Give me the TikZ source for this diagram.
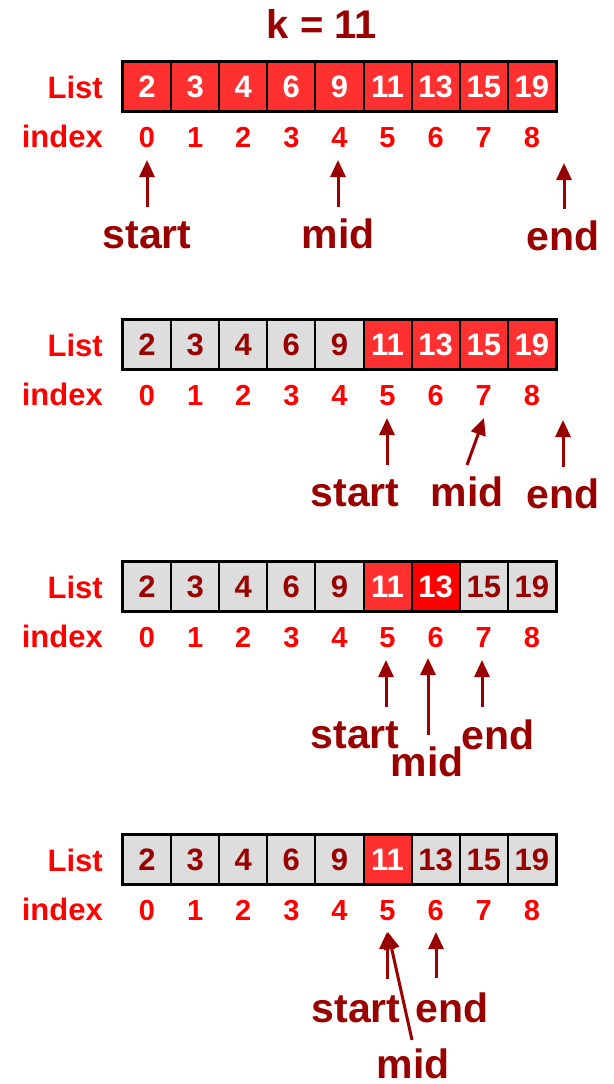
\documentclass[tikz,border=0pt]{standalone}
\usepackage{fontspec}
\setmainfont{Liberation Sans}
\usetikzlibrary{arrows.meta}
\definecolor{dred}{HTML}{990000}
\definecolor{cred}{HTML}{FF3030}
\definecolor{bred}{HTML}{FF0000}
\definecolor{lred}{HTML}{FF0000}
\definecolor{cgray}{HTML}{DDDDDD}
\begin{document}
\begin{tikzpicture}[x=1pt,y=-1pt,
 cellbox/.style={draw=black,line width=2pt,minimum width=48.1pt,minimum height=48.5pt,inner sep=0pt,font=\fontsize{31}{31}\selectfont\bfseries,text height=22pt,text depth=0pt},
 hot/.style={cellbox,fill=cred,text=white},
 hotter/.style={cellbox,fill=bred,text=white},
 cold/.style={cellbox,fill=cgray,text=dred},
 rowlabel/.style={font=\fontsize{31}{31}\selectfont\bfseries,text=lred,anchor=base east,inner sep=0pt},
 idx/.style={font=\fontsize{29}{29}\selectfont\bfseries,text=lred,anchor=base,inner sep=0pt},
 ptr/.style={font=\fontsize{41}{41}\selectfont\bfseries,text=dred,anchor=base,inner sep=0pt},
 ptrarrow/.style={draw=dred,line width=3pt,-{Triangle[width=15pt,length=17pt]}},
 frame/.style={draw=black,line width=2.5pt}
]
\useasboundingbox (0,0) rectangle (613,1084);
\node[font=\fontsize{40}{40}\selectfont\bfseries,text=dred,anchor=base,inner sep=0pt] (title) at (322,38) {k = 11};

% ---------- row 1
\node[rowlabel] (list1) at (103,98) {List};
\node[rowlabel] (index1) at (103,147) {index};
\foreach \v/\s [count=\i from 0] in {2/hot,3/hot,4/hot,6/hot,9/hot,11/hot,13/hot,15/hot,19/hot}
  {\node[\s] (a\i) at ({147.05+48.1*\i},86.5) {\v};}
\draw[frame] (a0.north west) rectangle (a8.south east);
\foreach \i in {0,...,8} {\node[idx] (ai\i) at ({147.05+48.1*\i},147) {\i};}
\node[ptr] (start1) at (147,248) {start};
\node[ptr] (mid1) at (338,248) {mid};
\node[ptr] (end1) at (563,250) {end};
\coordinate (s1t) at (147,207); \coordinate (s1h) at (147,160);
\coordinate (m1t) at (338,207); \coordinate (m1h) at (338,160);
\coordinate (e1t) at (564,209); \coordinate (e1h) at (564,163);
\draw[ptrarrow] (s1t) -- (s1h);
\draw[ptrarrow] (m1t) -- (m1h);
\draw[ptrarrow] (e1t) -- (e1h);

% ---------- row 2
\node[rowlabel] (list2) at (103,356) {List};
\node[rowlabel] (index2) at (103,405) {index};
\foreach \v/\s [count=\i from 0] in {2/cold,3/cold,4/cold,6/cold,9/cold,11/hot,13/hot,15/hot,19/hot}
  {\node[\s] (b\i) at ({147.05+48.1*\i},344.5) {\v};}
\draw[frame] (b0.north west) rectangle (b8.south east);
\foreach \i in {0,...,8} {\node[idx] (bi\i) at ({147.05+48.1*\i},405) {\i};}
\node[ptr] (start2) at (355,506) {start};
\node[ptr] (mid2) at (467,506) {mid};
\node[ptr] (end2) at (563,508) {end};
\coordinate (s2t) at (387,465); \coordinate (s2h) at (387,418);
\coordinate (m2t) at (467,465); \coordinate (m2h) at (484,418);
\coordinate (e2t) at (563,467); \coordinate (e2h) at (563,420);
\draw[ptrarrow] (s2t) -- (s2h);
\draw[ptrarrow] (m2t) -- (m2h);
\draw[ptrarrow] (e2t) -- (e2h);

% ---------- row 3
\node[rowlabel] (list3) at (103,598) {List};
\node[rowlabel] (index3) at (103,647) {index};
\foreach \v/\s [count=\i from 0] in {2/cold,3/cold,4/cold,6/cold,9/cold,11/hot,13/hotter,15/cold,19/cold}
  {\node[\s] (c\i) at ({147.05+48.1*\i},586.5) {\v};}
\draw[frame] (c0.north west) rectangle (c8.south east);
\foreach \i in {0,...,8} {\node[idx] (ci\i) at ({147.05+48.1*\i},647) {\i};}
\node[ptr] (start3) at (355,748) {start};
\node[ptr] (mid3) at (427,776) {mid};
\node[ptr] (end3) at (498,749) {end};
\coordinate (s3t) at (386,707); \coordinate (s3h) at (386,660);
\coordinate (m3t) at (428,735); \coordinate (m3h) at (428,658);
\coordinate (e3t) at (482,707); \coordinate (e3h) at (482,660);
\draw[ptrarrow] (s3t) -- (s3h);
\draw[ptrarrow] (m3t) -- (m3h);
\draw[ptrarrow] (e3t) -- (e3h);

% ---------- row 4
\node[rowlabel] (list4) at (103,871) {List};
\node[rowlabel] (index4) at (103,920) {index};
\foreach \v/\s [count=\i from 0] in {2/cold,3/cold,4/cold,6/cold,9/cold,11/hot,13/cold,15/cold,19/cold}
  {\node[\s] (d\i) at ({147.05+48.1*\i},859.5) {\v};}
\draw[frame] (d0.north west) rectangle (d8.south east);
\foreach \i in {0,...,8} {\node[idx] (di\i) at ({147.05+48.1*\i},920) {\i};}
\node[ptr] (start4) at (356,1022) {start};
\node[ptr] (end4) at (452,1022) {end};
\node[ptr] (mid4) at (413,1078) {mid};
\coordinate (s4t) at (387,979); \coordinate (s4h) at (387,932);
\coordinate (m4t) at (412,1040); \coordinate (m4h) at (388,932);
\coordinate (e4t) at (436,978); \coordinate (e4h) at (436,932);
\draw[ptrarrow] (s4t) -- (s4h);
\draw[ptrarrow] (m4t) -- (m4h);
\draw[ptrarrow] (e4t) -- (e4h);
\end{tikzpicture}
\end{document}
